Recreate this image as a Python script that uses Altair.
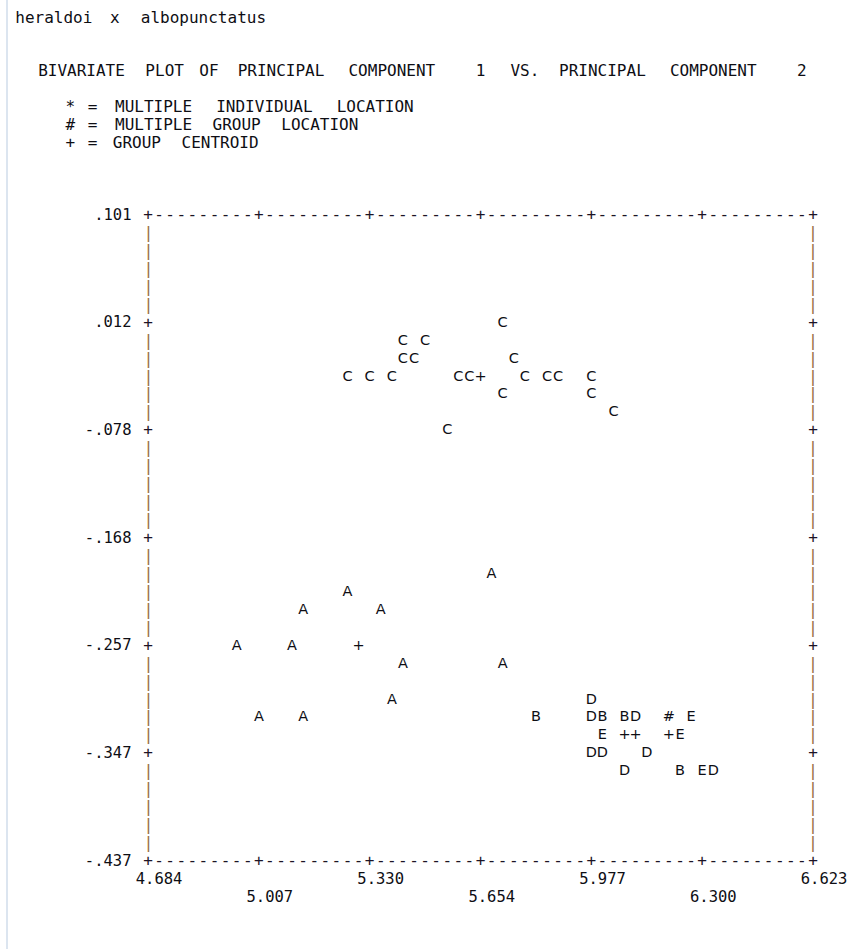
import re
import altair as alt
import pandas as pd

# ---------------- axis ticks ----------------
x_ticks = [4.684, 5.007, 5.330, 5.654, 5.977, 6.300, 6.623]
x_tick_labels = ["4.684", "5.007", "5.330", "5.654", "5.977", "6.300", "6.623"]
y_ticks = [0.101, 0.012, -0.078, -0.168, -0.257, -0.347, -0.437]
y_tick_labels = [".101", ".012", "-.078", "-.168", "-.257", "-.347", "-.437"]

# ---------------- individuals (PC1, PC2) per group ----------------
a_x = [5.6858, 5.2657, 5.1364, 5.3627, 4.9425, 5.1041, 5.4273, 5.7181, 5.3950, 5.0072, 5.1364]
a_y = [-0.1979, -0.2128, -0.2278, -0.2278, -0.2577, -0.2577, -0.2726, -0.2726, -0.3025, -0.3174, -0.3174]

b_x = [5.8151, 6.0090, 6.0736, 6.2352]
b_y = [-0.3174, -0.3174, -0.3174, -0.3623]

c_x = [5.7181, 5.4273, 5.4919, 5.4273, 5.4596, 5.7505, 5.2657, 5.3303, 5.3950, 5.5889,
       5.6212, 5.7828, 5.8474, 5.8797, 5.9767, 5.7181, 5.9767, 6.0413, 5.5565]
c_y = [0.0113, -0.0036, -0.0036, -0.0186, -0.0186, -0.0186, -0.0335, -0.0335, -0.0335, -0.0335,
       -0.0335, -0.0335, -0.0335, -0.0335, -0.0335, -0.0484, -0.0484, -0.0634, -0.0783]

d_x = [5.9767, 5.9767, 6.1059, 5.9767, 6.0090, 6.1383, 6.0736, 6.3322]
d_y = [-0.3025, -0.3174, -0.3174, -0.3473, -0.3473, -0.3473, -0.3623, -0.3623]

e_x = [6.2675, 6.0090, 6.2352, 6.2998]
e_y = [-0.3174, -0.3324, -0.3324, -0.3623]

# multiple group location (#)
multi_x = [6.2029]
multi_y = [-0.3174]

# group centroids (+)
centroid_groups = ["A", "C", "D", "B", "E"]
centroid_x = [5.2980, 5.6535, 6.0736, 6.1059, 6.2029]
centroid_y = [-0.2577, -0.0335, -0.3324, -0.3324, -0.3324]

# ---------------- header text ----------------
title_line = "heraldoi x albopunctatus"
header_line = "BIVARIATE PLOT OF PRINCIPAL COMPONENT   1  VS. PRINCIPAL COMPONENT   2"
legend_lines = ["* = MULTIPLE INDIVIDUAL LOCATION",
                "# = MULTIPLE GROUP LOCATION",
                "+ = GROUP CENTROID"]

# ---------------- layout of the character grid ----------------
W, H = 665, 646
NCOL, NROW = 60, 36
CW = W / NCOL          # character advance
RH = H / NROW          # line height

MONO = "DejaVu Sans Mono"
SANS = "DejaVu Sans"
INK = "#0e0e14"

xs = alt.Scale(domain=[4.684, 6.623], nice=False, zero=False)
ys = alt.Scale(domain=[-0.437, 0.101], nice=False, zero=False)

# points table
rows = []
for g, xx, yy in [("A", a_x, a_y), ("B", b_x, b_y), ("C", c_x, c_y), ("D", d_x, d_y), ("E", e_x, e_y)]:
    for x, y in zip(xx, yy):
        rows.append({"pc1": x, "pc2": y, "sym": g, "kind": "individual"})
for x, y in zip(multi_x, multi_y):
    rows.append({"pc1": x, "pc2": y, "sym": "#", "kind": "multiple group"})
for g, x, y in zip(centroid_groups, centroid_x, centroid_y):
    rows.append({"pc1": x, "pc2": y, "sym": "+", "kind": "centroid " + g})
pts = pd.DataFrame(rows)

points = alt.Chart(pts).mark_text(font=SANS, fontSize=14.5, color=INK,
                                  align="center", baseline="middle").encode(
    x=alt.X("pc1:Q", scale=xs, axis=None),
    y=alt.Y("pc2:Q", scale=ys, axis=None),
    text="sym:N",
)

# frame drawn as printer characters (decoration)
frame_rows = []
for c in range(NCOL + 1):
    ch = "+" if c % 10 == 0 else "-"
    frame_rows.append({"px": c * CW, "py": 0.0, "ch": ch, "side": "h"})
    frame_rows.append({"px": c * CW, "py": H, "ch": ch, "side": "h"})
for r in range(1, NROW):
    ch = "+" if r % 6 == 0 else "|"
    frame_rows.append({"px": 0.0, "py": r * RH, "ch": ch, "side": "l"})
    frame_rows.append({"px": W, "py": r * RH, "ch": ch, "side": "r"})
frame = pd.DataFrame(frame_rows)

frame_plus = alt.Chart(frame[frame.ch != "|"]).mark_text(
    font=MONO, fontSize=16, color="#1c1426", align="center", baseline="middle").encode(
    x=alt.X("px:Q", scale=None), y=alt.Y("py:Q", scale=None), text="ch:N")
frame_bar_l = alt.Chart(frame[(frame.ch == "|") & (frame.side == "l")]).mark_text(
    font=MONO, fontSize=16.5, color="#9a7048", align="center", baseline="middle", dx=0.5).encode(
    x=alt.X("px:Q", scale=None), y=alt.Y("py:Q", scale=None), text="ch:N")
frame_bar_r = alt.Chart(frame[(frame.ch == "|") & (frame.side == "r")]).mark_text(
    font=MONO, fontSize=16.5, color="#9a7048", align="center", baseline="middle").encode(
    x=alt.X("px:Q", scale=None), y=alt.Y("py:Q", scale=None), text="ch:N")

# y tick labels
ytl = pd.DataFrame({"v": y_ticks, "lab": y_tick_labels})
ylabels = alt.Chart(ytl).mark_text(font=MONO, fontSize=15.5, color=INK,
                                   align="right", baseline="middle").encode(
    x=alt.value(-16.5),
    y=alt.Y("v:Q", scale=ys, axis=None),
    text="lab:N",
)

# x tick labels, alternating on two lines
xtl = pd.DataFrame({"v": x_ticks, "lab": x_tick_labels, "i": list(range(len(x_ticks)))})
xlab_top = alt.Chart(xtl[xtl.i % 2 == 0]).mark_text(
    font=MONO, fontSize=15.5, color=INK, align="center", baseline="middle", dx=CW).encode(
    x=alt.X("v:Q", scale=xs, axis=None), y=alt.value(H + RH), text="lab:N")
xlab_bot = alt.Chart(xtl[xtl.i % 2 == 1]).mark_text(
    font=MONO, fontSize=15.5, color=INK, align="center", baseline="middle", dx=CW).encode(
    x=alt.X("v:Q", scale=xs, axis=None), y=alt.value(H + 2 * RH), text="lab:N")

# header words placed on the printer grid
hdr = []
for row, col0, line in [(-11, -12, title_line), (-8, -10, header_line),
                        (-6, -7, legend_lines[0]), (-5, -7, legend_lines[1]),
                        (-4, -7, legend_lines[2])]:
    for m in re.finditer(r"\S+", line):
        w = m.group(0)
        center = col0 + m.start() + (len(w) - 1) / 2
        hdr.append({"px": center * CW, "py": row * RH, "w": w})
hdr = pd.DataFrame(hdr)
header = alt.Chart(hdr).mark_text(font=MONO, fontSize=16, color=INK,
                                  align="center", baseline="middle").encode(
    x=alt.X("px:Q", scale=None), y=alt.Y("py:Q", scale=None), text="w:N")

# faint window edge at far left
edge = alt.Chart(pd.DataFrame({"k": [0]})).mark_rule(color="#b9cbe0", strokeWidth=1).encode(
    x=alt.value(-141), y=alt.value(-215), y2=alt.value(734))

chart = alt.layer(edge, frame_bar_l, frame_bar_r, frame_plus, ylabels, xlab_top, xlab_bot,
                  header, points).properties(
    width=W, height=H,
    autosize="none",
    padding={"left": 148, "top": 215, "right": 46, "bottom": 88},
    background="white",
).configure_view(stroke=None)

chart.save("out.html", embed_options={"renderer": "svg", "actions": False})
